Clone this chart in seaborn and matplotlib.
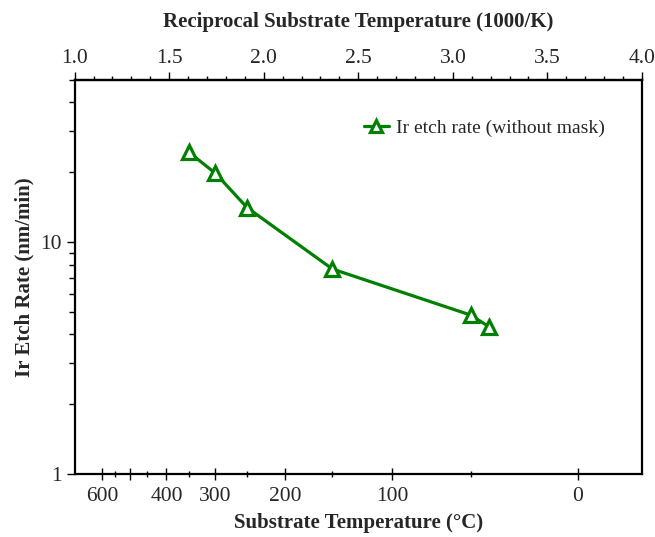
import numpy as np
import pandas as pd
import matplotlib
matplotlib.use("Agg")
import matplotlib.pyplot as plt
import matplotlib.ticker as mticker
import seaborn as sns

# ---- data ----
temps_c = [350, 300, 250, 150, 50, 40]            # substrate temperature (°C)
etch_rate = [24.4, 19.8, 14.1, 7.66, 4.85, 4.31]    # nm/min
series_label = "Ir etch rate (without mask)"

bottom_major_c = [600, 500, 400, 300, 200, 100, 0]
bottom_major_lbl = ["600", "", "400", "300", "200", "100", "0"]
bottom_minor_c = [550, 450, 350, 250, 150, 50]
top_ticks = [1.0, 1.5, 2.0, 2.5, 3.0, 3.5, 4.0]
y_ticks = [1, 10]
y_tick_lbl = ["1", "10"]


def recip(t):
    return 1000.0 / (np.asarray(t, dtype=float) + 273.15)


df = pd.DataFrame({"recip": recip(temps_c), "rate": etch_rate,
                   "series": series_label})

sns.set_theme(style="white")
plt.rcParams["font.family"] = ["Liberation Serif", "DejaVu Serif"]

fig = plt.figure(figsize=(6.55, 5.37), dpi=100)
ax = fig.add_axes([0.114, 0.117, 0.866, 0.734])

green = "#008000"
sns.lineplot(data=df, x="recip", y="rate", hue="series", palette=[green],
             marker="^", markersize=10, markerfacecolor="white",
             markeredgecolor=green, markeredgewidth=2.3, linewidth=2.3,
             sort=False, ax=ax)

ax.set_yscale("log")
ax.set_xlim(1.0, 4.0)
ax.set_ylim(1, 50)

# bottom axis: temperature in °C
ax.xaxis.set_major_locator(mticker.FixedLocator(recip(bottom_major_c)))
ax.xaxis.set_major_formatter(mticker.FixedFormatter(bottom_major_lbl))
ax.xaxis.set_minor_locator(mticker.FixedLocator(recip(bottom_minor_c)))
ax.tick_params(axis="x", which="major", direction="inout", length=8.5,
               width=1.0, labelsize=15.5, pad=5, color="black", bottom=True)
ax.tick_params(axis="x", which="minor", direction="inout", length=4.5,
               width=1.0, color="black", bottom=True)

# y axis
ax.yaxis.set_major_locator(mticker.FixedLocator(y_ticks))
ax.yaxis.set_major_formatter(mticker.FixedFormatter(y_tick_lbl))
ax.yaxis.set_minor_locator(mticker.LogLocator(base=10, subs=np.arange(2, 10)))
ax.yaxis.set_minor_formatter(mticker.NullFormatter())
ax.tick_params(axis="y", which="major", direction="out", length=6,
               width=1.0, labelsize=15.5, left=True, color="black")
ax.tick_params(axis="y", which="minor", direction="out", length=4,
               width=1.0, left=True, color="black")

# top axis: reciprocal temperature
sec = ax.secondary_xaxis("top")
sec.xaxis.set_major_locator(mticker.FixedLocator(top_ticks))
sec.xaxis.set_major_formatter(mticker.FormatStrFormatter("%.1f"))
sec.xaxis.set_minor_locator(mticker.MultipleLocator(0.1))
sec.tick_params(axis="x", which="major", direction="out", length=5.5,
                width=1.0, labelsize=15.5, pad=3.5, color="black", top=True)
sec.tick_params(axis="x", which="minor", direction="out", length=3,
                width=1.0, color="black", top=True)
sec.set_xlabel("Reciprocal Substrate Temperature (1000/K)", fontsize=15,
               fontweight="bold", labelpad=15.5)
for s in sec.spines.values():
    s.set_linewidth(1.6)
    s.set_color("black")

for s in ax.spines.values():
    s.set_linewidth(1.6)
    s.set_color("black")
    s.set_visible(True)

ax.set_xlabel("Substrate Temperature (°C)", fontsize=15, fontweight="bold",
              labelpad=5)
ax.set_ylabel("Ir Etch Rate (nm/min)", fontsize=15, fontweight="bold",
              labelpad=4)

leg = ax.legend(loc="upper right", bbox_to_anchor=(0.965, 0.945), frameon=False,
                fontsize=14, handlelength=1.3, handletextpad=0.35,
                markerscale=0.8)

fig.savefig("out.png", dpi=100)
